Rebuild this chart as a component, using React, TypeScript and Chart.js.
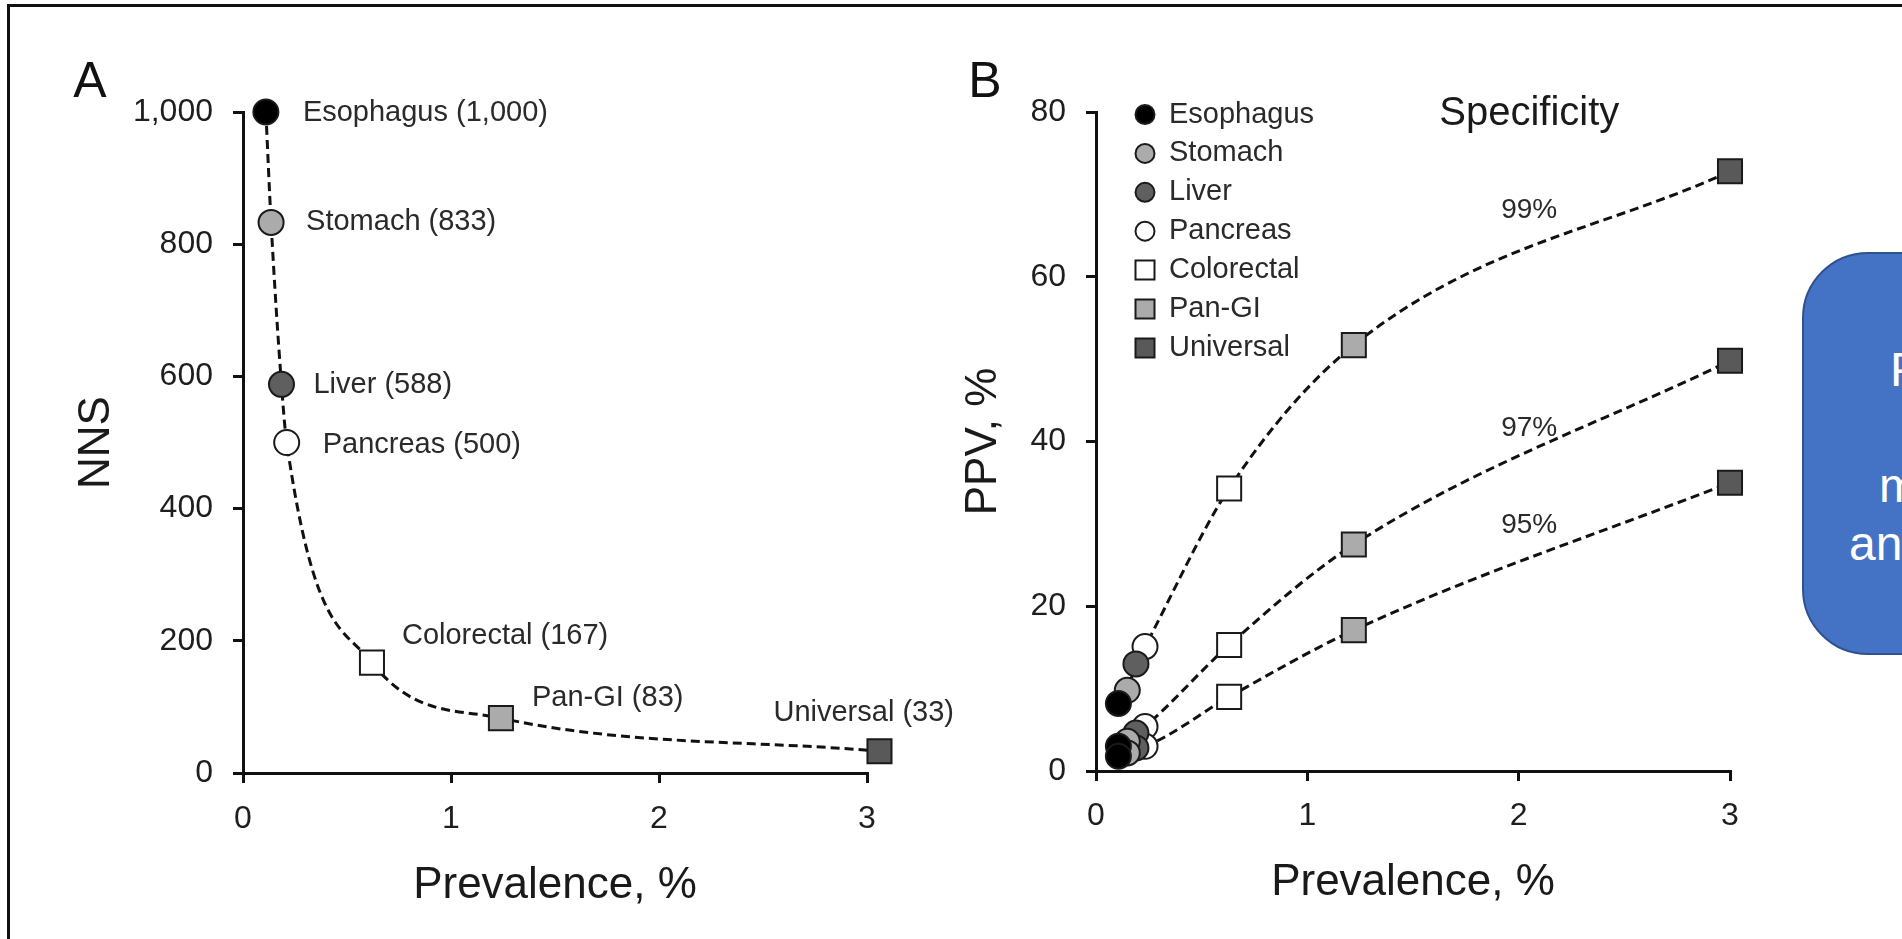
import React, { useEffect, useRef } from "react";
import { Chart, registerables } from "chart.js";

Chart.register(...registerables);

// ---------------- data ----------------
const categories = ["Esophagus", "Stomach", "Liver", "Pancreas", "Colorectal", "Pan-GI", "Universal"];
// Panel A: number needed to screen vs prevalence
const nnsPrevalence = [0.11, 0.135, 0.185, 0.21, 0.62, 1.24, 3.06];
const nnsValues = [1000, 833, 588, 500, 167, 83, 33];
// Panel B: PPV vs prevalence at three specificities
const ppvPrevalence = [0.106, 0.148, 0.189, 0.232, 0.63, 1.22, 3.0];
const specificityLevels = ["99%", "97%", "95%"];
const ppvSpec99 = [8.2, 9.8, 13.0, 15.1, 34.3, 51.7, 72.8];
const ppvSpec97 = [3.0, 3.6, 4.6, 5.4, 15.3, 27.5, 49.8];
const ppvSpec95 = [1.8, 2.2, 2.8, 3.0, 9.0, 17.1, 35.0];
const prevalenceTicks = [0, 1, 2, 3];
const nnsTicks = [0, 200, 400, 600, 800, 1000];
const ppvTicks = [0, 20, 40, 60, 80];
const calloutLines = ["PPV", "", "more", "and"];

// ---------------- styles ----------------
const FONT = "'Liberation Sans', Arial, Helvetica, sans-serif";
const INK = "#111111";
const markerFill = ["#000000", "#ababab", "#5f5f5f", "#ffffff", "#ffffff", "#ababab", "#595959"];
const markerShape = ["circle", "circle", "circle", "circle", "rect", "rect", "rect"];
const nnsLabelOffset = [[37, 1], [35, 0], [32, 1], [36, 2], [30, -27], [31, -20], [-106, -38]];
const specLabelAnchor = [[2.05, 68.1], [2.05, 41.6], [2.05, 29.8]];
const calloutLeft = [86, 70, 75, 45];

function linearAxis(o: any) {
  return {
    type: "linear",
    min: o.min,
    max: o.max,
    afterBuildTicks: (s: any) => {
      s.ticks = o.ticks.map((v: number) => ({ value: v }));
    },
    afterFit: (s: any) => {
      if (o.isX) s.height = o.size;
      else s.width = o.size;
    },
    border: { display: true, color: INK, width: 3 },
    grid: {
      display: true,
      drawOnChartArea: false,
      drawTicks: true,
      tickLength: 10,
      tickWidth: 3,
      tickColor: INK,
      color: INK,
      lineWidth: 3,
    },
    ticks: {
      font: { family: FONT, size: 32 },
      color: "#1e1e1e",
      padding: o.tickPad,
      autoSkip: false,
      maxRotation: 0,
      minRotation: 0,
      callback: (v: any) => Number(v).toLocaleString("en-US"),
    },
    title: {
      display: true,
      text: o.title,
      font: { family: FONT, size: 44 },
      color: "#1a1a1a",
      padding: o.titlePad,
    },
  };
}

function markerDatasets(xs: number[], ys: number[][]) {
  return categories.map((name, i) => ({
    label: name,
    data: ys.map((series) => ({ x: xs[i], y: series[i] })),
    showLine: false,
    pointStyle: markerShape[i],
    pointRadius: markerShape[i] === "rect" ? 17 : 12.5,
    pointBackgroundColor: markerFill[i],
    pointBorderColor: "#1a1a1a",
    pointBorderWidth: 2,
    clip: false,
  }));
}

function curveDataset(label: string, xs: number[], ys: number[]) {
  return {
    label,
    data: xs.map((x, i) => ({ x, y: ys[i] })),
    showLine: true,
    borderColor: INK,
    borderWidth: 3,
    borderDash: [9, 5],
    cubicInterpolationMode: "monotone",
    pointRadius: 0,
    clip: false,
  };
}

const nnsLabelsPlugin = {
  id: "nnsLabels",
  afterDatasetsDraw(chart: any) {
    const { ctx, scales } = chart;
    const x = scales.x;
    const y = scales.y;
    ctx.save();
    ctx.font = `29px ${FONT}`;
    ctx.fillStyle = "#2a2a2a";
    ctx.textBaseline = "middle";
    ctx.textAlign = "left";
    categories.forEach((name, i) => {
      const px = x.getPixelForValue(nnsPrevalence[i]) + nnsLabelOffset[i][0];
      const py = y.getPixelForValue(nnsValues[i]) + nnsLabelOffset[i][1];
      ctx.fillText(`${name} (${nnsValues[i].toLocaleString("en-US")})`, px, py);
    });
    ctx.font = `50px ${FONT}`;
    ctx.fillStyle = INK;
    ctx.textAlign = "center";
    ctx.fillText("A", 90, 83);
    ctx.restore();
  },
};

const ppvLabelsPlugin = {
  id: "ppvLabels",
  afterDatasetsDraw(chart: any) {
    const { ctx, scales, chartArea } = chart;
    const x = scales.x;
    const y = scales.y;
    ctx.save();
    ctx.textBaseline = "middle";
    // legend
    ctx.font = `29px ${FONT}`;
    const sx = chartArea.left + 49;
    const tx = chartArea.left + 73;
    categories.forEach((name, i) => {
      const cy = chartArea.top + 2.5 + 38.9 * i;
      ctx.beginPath();
      if (markerShape[i] === "circle") ctx.arc(sx, cy, 9.5, 0, Math.PI * 2);
      else ctx.rect(sx - 9.5, cy - 9.5, 19, 19);
      ctx.fillStyle = markerFill[i];
      ctx.fill();
      ctx.lineWidth = 2;
      ctx.strokeStyle = "#1a1a1a";
      ctx.stroke();
      ctx.fillStyle = "#2a2a2a";
      ctx.textAlign = "left";
      ctx.fillText(name, tx, cy);
    });
    // heading
    ctx.font = `40px ${FONT}`;
    ctx.fillStyle = "#1a1a1a";
    ctx.textAlign = "center";
    ctx.fillText("Specificity", x.getPixelForValue(2.05), chartArea.top + 2);
    // specificity curve labels
    ctx.font = `28px ${FONT}`;
    ctx.fillStyle = "#2a2a2a";
    specificityLevels.forEach((lab, i) => {
      ctx.fillText(lab, x.getPixelForValue(specLabelAnchor[i][0]), y.getPixelForValue(specLabelAnchor[i][1]));
    });
    ctx.font = `50px ${FONT}`;
    ctx.fillStyle = INK;
    ctx.fillText("B", 85, 83);
    ctx.restore();
  },
};

function buildConfigA(): any {
  return {
    type: "scatter",
    data: {
      datasets: [
        ...markerDatasets(nnsPrevalence, [nnsValues]),
        curveDataset("NNS", nnsPrevalence, nnsValues),
      ],
    },
    options: {
      responsive: false,
      animation: false,
      devicePixelRatio: 1,
      events: [],
      layout: { padding: { left: 0, top: 112, right: 133, bottom: 0 } },
      plugins: { legend: { display: false }, tooltip: { enabled: false } },
      scales: {
        x: linearAxis({ min: 0, max: 3, ticks: prevalenceTicks, title: "Prevalence, %", isX: true, size: 166, titlePad: { top: 0, bottom: 26.6 }, tickPad: 17 }),
        y: linearAxis({ min: 0, max: 1000, ticks: nnsTicks, title: "NNS", isX: false, size: 243, titlePad: { top: 70, bottom: 0 }, tickPad: 20 }),
      },
    },
    plugins: [nnsLabelsPlugin],
  };
}

function buildConfigB(): any {
  return {
    type: "scatter",
    data: {
      datasets: [
        ...markerDatasets(ppvPrevalence, [ppvSpec99, ppvSpec97, ppvSpec95]),
        curveDataset("99%", ppvPrevalence, ppvSpec99),
        curveDataset("97%", ppvPrevalence, ppvSpec97),
        curveDataset("95%", ppvPrevalence, ppvSpec95),
      ],
    },
    options: {
      responsive: false,
      animation: false,
      devicePixelRatio: 1,
      events: [],
      layout: { padding: { left: 0, top: 112, right: 172, bottom: 0 } },
      plugins: { legend: { display: false }, tooltip: { enabled: false } },
      scales: {
        x: linearAxis({ min: 0, max: 3, ticks: prevalenceTicks, title: "Prevalence, %", isX: true, size: 168, titlePad: { top: 0, bottom: 29.9 }, tickPad: 16 }),
        y: linearAxis({ min: 0, max: 80, ticks: ppvTicks, title: "PPV, %", isX: false, size: 196, titlePad: { top: 57.6, bottom: 0 }, tickPad: 20 }),
      },
    },
    plugins: [ppvLabelsPlugin],
  };
}

function ChartCanvas({ build, left, width }: { build: () => any; left: number; width: number }) {
  const ref = useRef<HTMLCanvasElement>(null);
  useEffect(() => {
    const chart = new Chart(ref.current as HTMLCanvasElement, build());
    return () => chart.destroy();
  }, []);
  return (
    <canvas
      ref={ref}
      width={width}
      height={939}
      style={{ position: "absolute", left, top: 0, width, height: 939 }}
    />
  );
}

export default function App() {
  return (
    <div
      style={{
        position: "absolute",
        left: 0,
        top: 0,
        width: 1902,
        height: 939,
        overflow: "hidden",
        background: "#ffffff",
      }}
    >
      <div
        style={{
          position: "absolute",
          left: 7,
          top: 4,
          width: 3000,
          height: 3000,
          borderTop: "3px solid #111",
          borderLeft: "3px solid #111",
        }}
      />
      <ChartCanvas build={buildConfigA} left={0} width={1000} />
      <ChartCanvas build={buildConfigB} left={900} width={1002} />
      <div
        style={{
          position: "absolute",
          left: 1802,
          top: 252,
          width: 420,
          height: 403,
          boxSizing: "border-box",
          borderRadius: 66,
          background: "#4472C4",
          border: "2px solid #2F528F",
          fontFamily: FONT,
          color: "#ffffff",
          fontSize: 48,
        }}
      >
        {calloutLines.map((t, i) => (
          <div
            key={i}
            style={{
              position: "absolute",
              left: calloutLeft[i],
              top: 116 + 58 * i - 29,
              height: 58,
              lineHeight: "58px",
              whiteSpace: "nowrap",
            }}
          >
            {t}
          </div>
        ))}
      </div>
    </div>
  );
}
